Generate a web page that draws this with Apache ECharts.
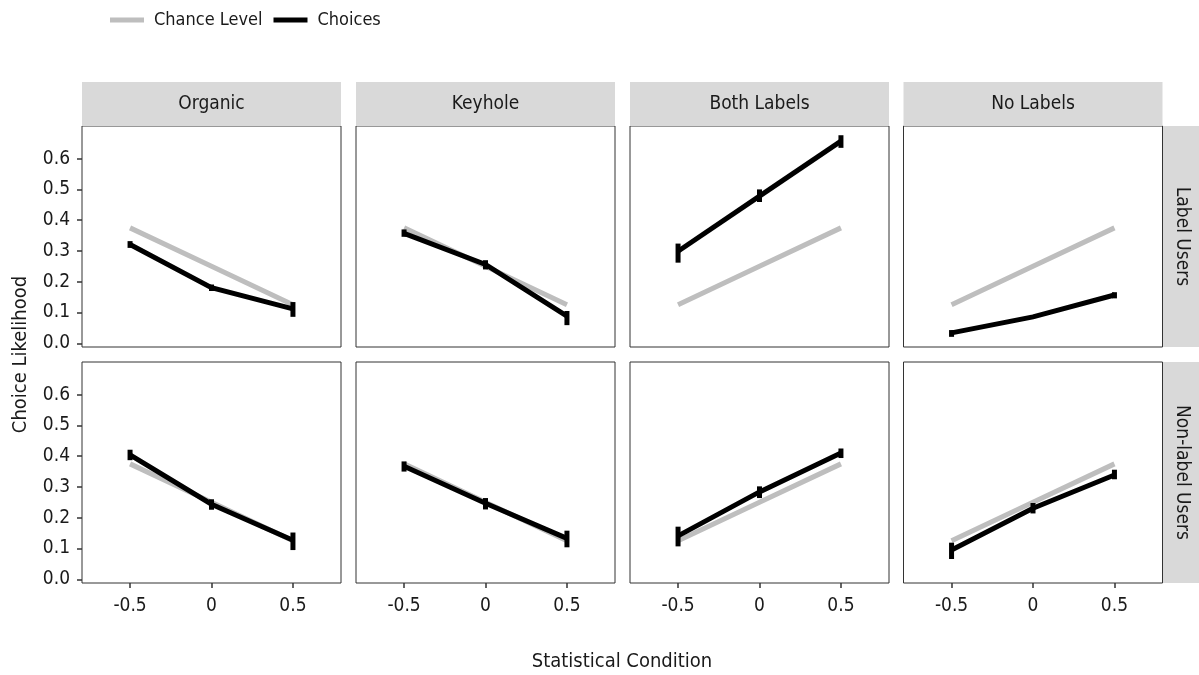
<!DOCTYPE html>
<html>
<head>
<meta charset="utf-8">
<script src="https://cdn.jsdelivr.net/npm/echarts@6/dist/echarts.min.js"></script>
<style>
html,body{margin:0;padding:0;background:#fff;}
#chart{width:1199px;height:675px;}
</style>
</head>
<body>
<div id="chart"></div>
<script>
// ---------------- DATA ----------------
const columns = ['Organic', 'Keyhole', 'Both Labels', 'No Labels'];
const rows = ['Label Users', 'Non-label Users'];
const xValues = [-0.5, 0, 0.5];
const xTicks = [-0.5, 0, 0.5];
const yTicks = [0, 0.1, 0.2, 0.3, 0.4, 0.5, 0.6];

// Chance level per column (same in both rows)
const chanceLevel = [
  [0.375, 0.25, 0.125],
  [0.375, 0.25, 0.125],
  [0.125, 0.25, 0.375],
  [0.125, 0.25, 0.375]
];

// Choices: Label Users row
const labelUsersMean = [
  [0.321, 0.181, 0.112],
  [0.357, 0.256, 0.088],
  [0.299, 0.478, 0.657],
  [0.034, 0.086, 0.157]
];
const labelUsersLow = [
  [0.310, 0.170, 0.086],
  [0.346, 0.240, 0.059],
  [0.262, 0.459, 0.635],
  [0.021, 0.082, 0.146]
];
const labelUsersHigh = [
  [0.332, 0.191, 0.134],
  [0.370, 0.270, 0.105],
  [0.324, 0.500, 0.676],
  [0.043, 0.091, 0.166]
];

// Choices: Non-label Users row
const nonLabelUsersMean = [
  [0.404, 0.244, 0.127],
  [0.367, 0.247, 0.133],
  [0.141, 0.284, 0.410],
  [0.095, 0.231, 0.339]
];
const nonLabelUsersLow = [
  [0.387, 0.226, 0.095],
  [0.350, 0.227, 0.104],
  [0.107, 0.264, 0.394],
  [0.066, 0.214, 0.325]
];
const nonLabelUsersHigh = [
  [0.421, 0.260, 0.152],
  [0.383, 0.264, 0.158],
  [0.171, 0.302, 0.425],
  [0.119, 0.248, 0.356]
];

// ---------------- LAYOUT ----------------
const FONT = '"DejaVu Sans Condensed", "Liberation Sans", sans-serif';
const TXT = '#1a1a1a';
const gridLefts = [82, 356, 630, 903.5];
const gridTops = [126, 362];
const gridW = 259;
const gridH = 221;
const X_MIN = -0.795, X_MAX = 0.795;
const Y_MIN = -0.012, Y_MAX = 0.706;
const TICK_FS = 19;

const meanRows = [labelUsersMean, nonLabelUsersMean];
const lowRows = [labelUsersLow, nonLabelUsersLow];
const highRows = [labelUsersHigh, nonLabelUsersHigh];

const grids = [], xAxes = [], yAxes = [], series = [], graphics = [];

for (let r = 0; r < rows.length; r++) {
  for (let c = 0; c < columns.length; c++) {
    const idx = r * columns.length + c;
    grids.push({
      left: gridLefts[c], top: gridTops[r], width: gridW, height: gridH,
      show: true, borderColor: '#333333', borderWidth: 1, backgroundColor: '#ffffff'
    });
    xAxes.push({
      type: 'value', gridIndex: idx, min: X_MIN, max: X_MAX, position: 'bottom',
      axisLine: { show: false, onZero: false },
      splitLine: { show: false },
      axisTick: { show: r === rows.length - 1, length: 5, lineStyle: { color: '#333333', width: 1.5 }, customValues: xTicks },
      axisLabel: { show: r === rows.length - 1, customValues: xTicks, margin: 14, color: TXT,
        fontFamily: FONT, fontSize: TICK_FS, formatter: v => String(v) }
    });
    yAxes.push({
      type: 'value', gridIndex: idx, min: Y_MIN, max: Y_MAX, position: 'left',
      axisLine: { show: false, onZero: false },
      splitLine: { show: false },
      axisTick: { show: c === 0, length: 5, lineStyle: { color: '#333333', width: 1.5 }, customValues: yTicks },
      axisLabel: { show: c === 0, customValues: yTicks, margin: 12, color: TXT,
        fontFamily: FONT, fontSize: TICK_FS, formatter: v => v.toFixed(1) }
    });
    series.push({
      name: 'Chance Level', type: 'line', xAxisIndex: idx, yAxisIndex: idx,
      data: xValues.map((x, j) => [x, chanceLevel[c][j]]),
      showSymbol: false, symbol: 'none', silent: true,
      lineStyle: { color: '#bebebe', width: 5, cap: 'butt' }, itemStyle: { color: '#bebebe' },
      z: 2
    });
    const lows = lowRows[r][c], highs = highRows[r][c];
    series.push({
      name: 'Choices', type: 'custom', xAxisIndex: idx, yAxisIndex: idx,
      data: xValues.map((x, j) => [x, lows[j], highs[j]]),
      itemStyle: { color: '#000' },
      renderItem: function (params, api) {
        const p1 = api.coord([api.value(0), api.value(1)]);
        const p2 = api.coord([api.value(0), api.value(2)]);
        return {
          type: 'rect',
          shape: { x: p1[0] - 2.5, y: p2[1], width: 5, height: p1[1] - p2[1] },
          style: { fill: '#000' }
        };
      },
      z: 4, silent: true
    });
    series.push({
      name: 'Choices', type: 'line', xAxisIndex: idx, yAxisIndex: idx,
      data: xValues.map((x, j) => [x, meanRows[r][c][j]]),
      showSymbol: false, symbol: 'none', silent: true,
      lineStyle: { color: '#000000', width: 5, cap: 'butt', join: 'miter' }, itemStyle: { color: '#000' },
      z: 3
    });
  }
}

// strip labels (top)
for (let c = 0; c < columns.length; c++) {
  graphics.push({
    type: 'rect', left: gridLefts[c], top: 82,
    shape: { width: gridW, height: 44 }, style: { fill: '#d9d9d9' }, silent: true
  });
  graphics.push({
    type: 'text', x: gridLefts[c] + gridW / 2, y: 104,
    style: { text: columns[c], fill: TXT, font: TICK_FS + 'px ' + FONT, textAlign: 'center', textVerticalAlign: 'middle' }
  });
}
// strip labels (right)
for (let r = 0; r < rows.length; r++) {
  graphics.push({
    type: 'rect', left: 1163, top: gridTops[r],
    shape: { width: 44, height: gridH }, style: { fill: '#d9d9d9' }, silent: true
  });
  graphics.push({
    type: 'text', x: 1182, y: gridTops[r] + gridH / 2, rotation: -Math.PI / 2,
    style: { text: rows[r], fill: TXT, font: TICK_FS + 'px ' + FONT, textAlign: 'center', textVerticalAlign: 'middle' }
  });
}
// axis titles
graphics.push({
  type: 'text', x: 622, y: 662,
  style: { text: 'Statistical Condition', fill: TXT, font: '20px ' + FONT, textAlign: 'center', textVerticalAlign: 'middle' }
});
graphics.push({
  type: 'text', x: 21, y: 354.5, rotation: Math.PI / 2,
  style: { text: 'Choice Likelihood', fill: TXT, font: '20px ' + FONT, textAlign: 'center', textVerticalAlign: 'middle' }
});

const chart = echarts.init(document.getElementById('chart'), null, { renderer: 'canvas' });
chart.setOption({
  animation: false,
  backgroundColor: '#ffffff',
  legend: {
    left: 110, top: 11, padding: 0,
    data: [
      { name: 'Chance Level', itemStyle: { color: '#bebebe' } },
      { name: 'Choices', itemStyle: { color: '#000000' } }
    ],
    icon: 'rect', itemWidth: 34, itemHeight: 5, itemGap: 11,
    textStyle: { fontFamily: FONT, fontSize: 18, color: TXT, padding: [0, 0, 0, 5] },
    selectedMode: false
  },
  grid: grids,
  xAxis: xAxes,
  yAxis: yAxes,
  series: series,
  graphic: graphics
});
</script>
</body>
</html>
